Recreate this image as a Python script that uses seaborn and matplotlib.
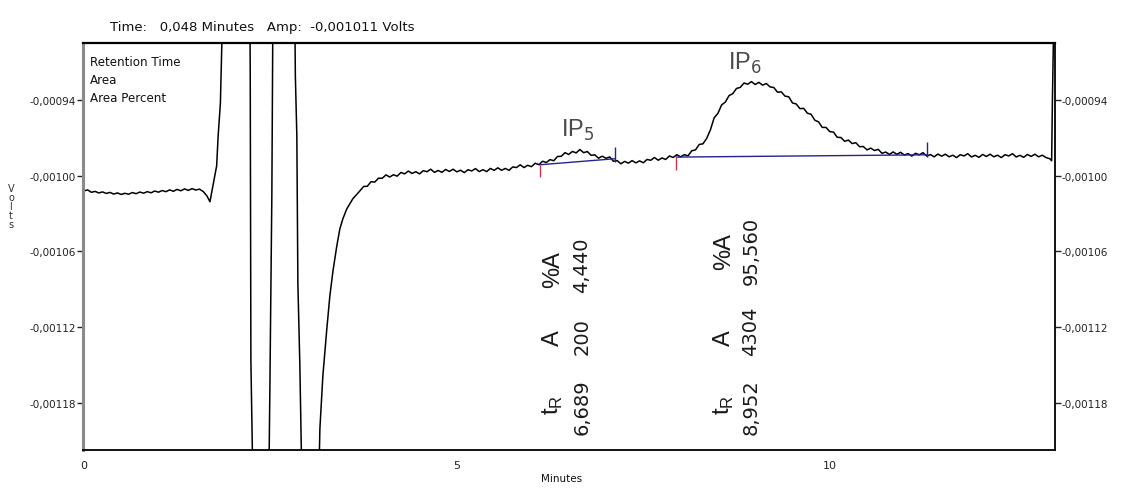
import numpy as np
import pandas as pd
import matplotlib
matplotlib.use("Agg")
import matplotlib.pyplot as plt
import seaborn as sns

# ---------------- data ----------------
time_min = [
    0.00, 0.05, 0.10, 0.15, 0.20, 0.25, 0.30, 0.35, 0.40, 0.45, 0.50, 0.55, 0.60, 0.65, 0.70, 0.75,
    0.80, 0.85, 0.90, 0.95, 1.00, 1.05, 1.10, 1.15, 1.20, 1.25, 1.30, 1.35, 1.40, 1.45, 1.50, 1.55, 1.60,
    1.65, 1.69, 1.73, 1.78, 1.80, 1.83, 1.86, 2.00, 2.225, 2.23, 2.239, 2.265, 2.48, 2.493, 2.52, 2.534,
    2.68, 2.828, 2.835, 2.855, 2.869, 2.895, 2.922, 3.15, 3.164, 3.204, 3.257, 3.298, 3.338, 3.391,
    3.432, 3.472, 3.525, 3.606, 3.70,
    3.75, 3.80, 3.85, 3.90, 3.95, 4.00, 4.05, 4.10, 4.15, 4.20, 4.25, 4.30, 4.35, 4.40, 4.45, 4.50,
    4.55, 4.60, 4.65, 4.70, 4.75, 4.80, 4.85, 4.90, 4.95, 5.00, 5.05, 5.10, 5.15, 5.20, 5.25, 5.30,
    5.35, 5.40, 5.45, 5.50, 5.55, 5.60, 5.65, 5.70, 5.75, 5.80, 5.85, 5.90, 5.95, 6.00, 6.05, 6.10,
    6.15, 6.20, 6.25, 6.30, 6.35, 6.40, 6.45, 6.50, 6.55, 6.60, 6.65, 6.70, 6.75, 6.80, 6.85, 6.90,
    6.95, 7.00, 7.05, 7.10, 7.15, 7.20, 7.25, 7.30, 7.35, 7.40, 7.45, 7.50, 7.55, 7.60, 7.65, 7.70,
    7.75, 7.80, 7.85, 7.90, 7.95, 8.00, 8.05, 8.10, 8.15, 8.20, 8.25, 8.30, 8.35, 8.40, 8.45, 8.50,
    8.55, 8.60, 8.65, 8.70, 8.75, 8.80, 8.85, 8.90, 8.95, 9.00, 9.05, 9.10, 9.15, 9.20, 9.25, 9.30,
    9.35, 9.40, 9.45, 9.50, 9.55, 9.60, 9.65, 9.70, 9.75, 9.80, 9.85, 9.90, 9.95, 10.00, 10.05, 10.10,
    10.15, 10.20, 10.25, 10.30, 10.35, 10.40, 10.45, 10.50, 10.55, 10.60, 10.65, 10.70, 10.75, 10.80,
    10.85, 10.90, 10.95, 11.00, 11.05, 11.10, 11.15, 11.20, 11.25, 11.30, 11.35, 11.40, 11.45, 11.50,
    11.55, 11.60, 11.65, 11.70, 11.75, 11.80, 11.85, 11.90, 11.95, 12.00, 12.05, 12.10, 12.15, 12.20,
    12.25, 12.30, 12.35, 12.40, 12.45, 12.50, 12.55, 12.60, 12.65, 12.70, 12.75, 12.80, 12.85, 12.90,
    12.95, 12.975, 12.985, 13.005,
]
amp_uV = [
    -1012.0, -1011.2, -1013.1, -1012.4, -1013.6, -1012.8, -1014.0, -1013.2, -1014.5, -1013.6, -1014.8,
    -1013.9, -1014.6, -1013.3, -1014.2, -1012.9, -1013.8, -1012.6, -1013.5, -1012.1, -1013.0, -1011.7,
    -1012.6, -1011.2, -1012.3, -1010.8, -1011.9, -1010.4, -1011.6, -1010.2, -1011.3, -1010.6, -1012.5,
    -1016.0, -1020.6, -1007.9, -992.1, -968.3, -942.6, -870.0, -700.0, -870.0, -915.2, -1146.6, -1240.0,
    -1240.0, -1171.2, -1015.1, -870.0, -700.0, -870.0, -920.7, -968.3, -1085.6, -1149.0, -1240.0,
    -1240.0, -1200.5, -1158.5, -1121.3, -1095.1, -1076.1, -1055.5, -1042.0, -1034.1, -1026.2, -1018.2,
    -1012.0,
    -1008.5, -1008.3, -1004.7, -1005.0, -1001.9, -1002.0, -999.3, -1001.0, -999.2, -1000.3, -997.4,
    -998.5, -996.3, -998.2, -996.8, -998.5, -996.0, -996.8, -994.8, -997.3, -995.8, -997.3, -995.0,
    -996.6, -994.8, -996.9, -995.6, -997.5, -995.2, -996.2, -994.3, -996.7, -995.2, -996.7, -994.2,
    -995.7, -993.7, -995.7, -994.2, -995.7, -993.0, -993.5, -991.3, -993.5, -991.7, -992.8, -990.1,
    -991.2,
    -988.5, -989.5, -987.2, -988.1, -984.7, -984.6, -981.7, -983.1, -980.7, -981.9, -979.2, -981.7,
    -980.8, -983.8, -983.4, -986.1, -984.5, -986.2, -985.1, -988.5, -988.0, -990.5, -988.6, -990.0,
    -988.0, -989.8, -988.2, -989.7, -987.1, -987.7, -985.5, -987.7, -985.9, -987.1, -984.3, -985.5,
    -983.3, -985.0, -983.3, -984.2, -980.2, -979.5, -975.2, -974.7, -970.4, -963.6, -954.1, -950.6,
    -943.9, -941.6, -936.5, -934.9, -930.8, -930.0, -926.5, -927.5, -925.4, -927.7, -926.0, -928.2,
    -926.9, -929.6, -930.1, -933.8, -933.5, -936.9, -937.4, -942.3, -943.1, -946.8, -946.6, -950.4,
    -951.3, -956.0, -957.3, -961.7, -961.7, -965.0, -965.4, -969.5, -969.7, -972.7, -971.7, -974.5,
    -973.8, -977.0, -976.8, -979.5, -978.1, -980.0, -979.1, -982.2, -981.2, -983.1, -981.1, -983.0,
    -981.4, -983.6, -982.4, -984.4, -982.2, -983.4, -981.7, -984.4, -983.2, -985.0, -982.8, -984.5,
    -982.9, -985.0, -983.7, -985.6, -983.3, -984.3, -982.5, -985.1, -983.8, -985.4, -983.1, -984.7,
    -982.9, -985.0, -983.7, -985.6, -983.3, -984.3, -982.5, -985.1, -983.8, -985.4, -983.1, -984.7,
    -982.9, -985.0, -983.7, -985.6, -986.5, -988.1, -941.3, -870.0,
]

peak_names = ["IP$_5$", "IP$_6$"]
peak_label_min = [6.62, 8.87]
peak_label_uV = [-963.5, -910.4]
peak_tr = ["6,689", "8,952"]
peak_area = ["200", "4304"]
peak_pct = ["4,440", "95,560"]
peak_start_min = [6.11, 7.94]
peak_end_min = [7.12, 11.30]
base_start_uV = [-991.3, -985.2]
base_end_uV = [-986.5, -983.4]
start_mark_low_uV = [-1000.8, -995.2]
end_mark_high_uV = [-977.0, -973.3]
end_mark_low_uV = [-988.9, -985.2]

ytick_vals = [-0.00094, -0.00100, -0.00106, -0.00112, -0.00118]
ytick_labels = ["-0,00094", "-0,00100", "-0,00106", "-0,00112", "-0,00118"]
xtick_vals = [0, 5, 10]
xtick_labels = ["0", "5", "10"]

# ---------------- figure ----------------
sns.set_style("white")
plt.rcParams["font.family"] = ["DejaVu Sans"]

W, H = 1144, 489
fig = plt.figure(figsize=(W / 100, H / 100), dpi=100)
ax = fig.add_axes([83 / W, 38 / H, 972 / W, 407 / H])

df = pd.DataFrame({"time": time_min, "volts": np.array(amp_uV) * 1e-6})
sns.lineplot(data=df, x="time", y="volts", ax=ax, color="black", lw=1.1,
             estimator=None, sort=False)

# integration baselines and markers
base_df = pd.DataFrame({
    "time": peak_start_min + peak_end_min,
    "volts": (np.array(base_start_uV + base_end_uV)) * 1e-6,
    "peak": [0, 1, 0, 1],
})
sns.lineplot(data=base_df, x="time", y="volts", units="peak", estimator=None,
             ax=ax, color="#232390", lw=1.0)
ax.vlines(peak_end_min, np.array(end_mark_low_uV) * 1e-6, np.array(end_mark_high_uV) * 1e-6,
          color="#232390", lw=1.0)
ax.vlines(peak_start_min, np.array(start_mark_low_uV) * 1e-6, np.array(base_start_uV) * 1e-6,
          color="#d0304a", lw=1.0)

for name, t, v in zip(peak_names, peak_label_min, peak_label_uV):
    ax.text(t, v * 1e-6, name, ha="center", va="center", fontsize=17,
            color="#4a4a4a", family="Liberation Sans")

ax.set_xlim(-0.012, 13.02)
ax.set_ylim(-0.0012173, -0.0008948)
ax.set_xticks(xtick_vals)
ax.set_xticklabels(xtick_labels)
ax.set_yticks(ytick_vals)
ax.set_yticklabels(ytick_labels)
ax.set_xlabel("")
ax.set_ylabel("")
ax.tick_params(axis="y", which="both", left=True, right=True, labelleft=True, labelright=True,
               direction="out", length=4, width=1, pad=1, labelsize=7.5, colors="#222222")
ax.tick_params(axis="x", direction="out", length=4, width=1, pad=3, labelsize=8, colors="#222222")

for side, sp in ax.spines.items():
    sp.set_visible(True)
    sp.set_color("black")
    sp.set_linewidth(1.3)
ax.spines["left"].set_color("#8a8a8a")
ax.spines["left"].set_linewidth(2.2)
ax.spines["top"].set_linewidth(1.6)

# header and labels
fig.text(110 / W, 1 - 28 / H, "Time:   0,048 Minutes   Amp:  -0,001011 Volts",
         fontsize=9.5, va="center", ha="left", color="#111111")
for txt, yy in zip(["Retention Time", "Area", "Area Percent"], [62, 80, 98]):
    fig.text(90 / W, 1 - yy / H, txt, fontsize=8.6, va="center", ha="left", color="#111111")
fig.text(11 / W, 1 - 207 / H, "V\no\nl\nt\ns", fontsize=7, ha="center", va="center",
         linespacing=0.85, color="#333333")
fig.text(562 / W, 1 - 479 / H, "Minutes", fontsize=7.5, ha="center", va="center", color="#111111")

# rotated peak tables
label_x = [553, 724]
value_x = [582, 751]
label_y = {"tr": 405, "a": 338, "pct": [270, 252]}
value_y = {"tr": 407, "a": [337, 331], "pct": [265, 251]}
for i in range(2):
    fig.text(label_x[i] / W, 1 - label_y["tr"] / H, "t$_\\mathregular{R}$", rotation=90,
             fontsize=17, ha="center", va="center", family="Liberation Sans", color="#1a1a1a")
    fig.text(label_x[i] / W, 1 - label_y["a"] / H, "A", rotation=90,
             fontsize=17, ha="center", va="center", family="Liberation Sans", color="#1a1a1a")
    fig.text(label_x[i] / W, 1 - label_y["pct"][i] / H, "%A", rotation=90,
             fontsize=17, ha="center", va="center", family="Liberation Sans", color="#1a1a1a")
    fig.text(value_x[i] / W, 1 - value_y["tr"] / H, peak_tr[i], rotation=90,
             fontsize=14, ha="center", va="center", color="#1a1a1a")
    fig.text(value_x[i] / W, 1 - value_y["a"][i] / H, peak_area[i], rotation=90,
             fontsize=14, ha="center", va="center", color="#1a1a1a")
    fig.text(value_x[i] / W, 1 - value_y["pct"][i] / H, peak_pct[i], rotation=90,
             fontsize=14, ha="center", va="center", color="#1a1a1a")

fig.savefig("out.png", dpi=100)
